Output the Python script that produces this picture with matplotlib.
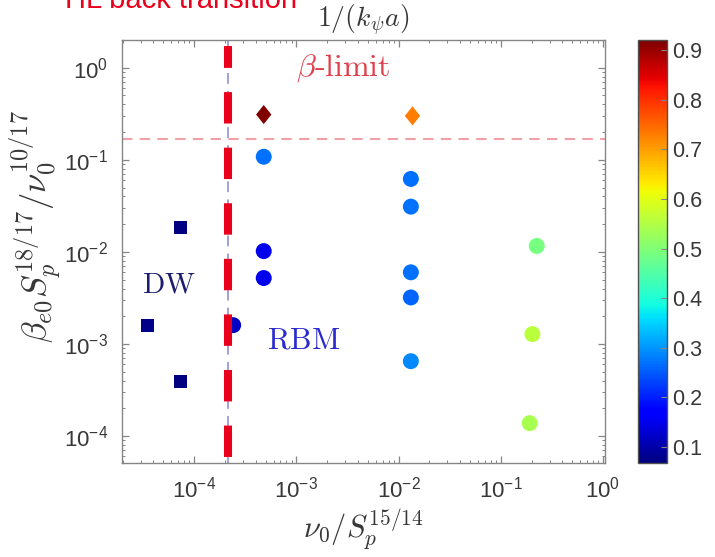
import matplotlib
matplotlib.use("Agg")
import matplotlib.pyplot as plt
from matplotlib.colors import Normalize
from matplotlib.ticker import LogLocator, NullFormatter

plt.rcParams["font.family"] = ["Liberation Sans", "DejaVu Sans"]
plt.rcParams["mathtext.fontset"] = "cm"

# DW points (squares)
sq_x = [7.3e-5, 3.5e-5, 7.3e-5]
sq_y = [0.0182, 1.58e-3, 3.9e-4]
sq_c = [0.07, 0.075, 0.07]

# RBM points (circles)
ci_x = [2.41e-4, 4.8e-4, 4.8e-4, 4.8e-4,
        0.0132, 0.0132, 0.0132, 0.0132, 0.0132,
        0.225, 0.204, 0.192]
ci_y = [1.6e-3, 0.108, 0.0102, 5.2e-3,
        0.062, 0.031, 6.0e-3, 3.2e-3, 6.5e-4,
        0.0116, 1.28e-3, 1.38e-4]
ci_c = [0.12, 0.27, 0.15, 0.15,
        0.27, 0.27, 0.27, 0.26, 0.29,
        0.49, 0.56, 0.54]

# beyond beta-limit (diamonds)
di_x = [4.8e-4, 0.0137]
di_y = [0.31, 0.30]
di_c = [0.92, 0.73]

x_transition = 2.15e-4
beta_limit = 0.17
cbar_ticks = [0.1, 0.2, 0.3, 0.4, 0.5, 0.6, 0.7, 0.8, 0.9]

norm = Normalize(vmin=0.068, vmax=0.92)
cmap = "jet"
spine_col = "#858585"
text_col = "#383838"

fig = plt.figure(figsize=(7.15, 5.57), dpi=100)
ax = fig.add_axes([0.1706, 0.1688, 0.6755, 0.7594])
cax = fig.add_axes([0.8923, 0.1688, 0.0406, 0.7594])

ax.set_xscale("log")
ax.set_yscale("log")
ax.set_xlim(1.97e-5, 1.046)
ax.set_ylim(5.1e-5, 2.0)

ax.scatter(sq_x, sq_y, c=sq_c, cmap=cmap, norm=norm, marker="s", s=88,
           edgecolors="none", zorder=3)
sc = ax.scatter(ci_x, ci_y, c=ci_c, cmap=cmap, norm=norm, marker="o", s=132,
                edgecolors="none", zorder=3)
diamond = [(0, 1), (0.8, 0), (0, -1), (-0.8, 0), (0, 1)]
ax.scatter(di_x, di_y, c=di_c, cmap=cmap, norm=norm, marker=diamond, s=190,
           edgecolors="none", zorder=3)

ax.axvline(x_transition, color="#9a9ad8", lw=1.3, dashes=(6, 4), zorder=2)
ax.axvline(x_transition, ymin=0.015, ymax=0.985, color="#e8001c", lw=5.8,
           dashes=(3.9, 3.0), zorder=4)
ax.axhline(beta_limit, color="#f0a0a8", lw=1.5, dashes=(5, 3.5), zorder=2)

ax.text(2.88e-3, 1.0, r"$\beta\text{-limit}$", color="#e0404c", fontsize=23,
        ha="center", va="center")
ax.text(5.7e-5, 4.4e-3, r"$\mathrm{DW}$", color="#1c1c70", fontsize=21,
        ha="center", va="center")
ax.text(1.17e-3, 1.08e-3, r"$\mathrm{RBM}$", color="#2a2ad0", fontsize=22,
        ha="center", va="center")

ax.set_xlabel(r"$\nu_0/S_p^{15/14}$", fontsize=22, color=text_col, labelpad=4)
ax.set_ylabel(r"$\beta_{e0}S_p^{18/17}/\nu_0^{10/17}$", fontsize=25,
              color=text_col)
ax.yaxis.set_label_coords(-0.12, 0.56)
ax.set_title(r"$1/(k_\psi a)$", fontsize=20, color=text_col, pad=9)

ax.xaxis.set_major_locator(LogLocator(base=10, numticks=10))
ax.xaxis.set_minor_locator(LogLocator(base=10, subs=range(2, 10), numticks=10))
ax.xaxis.set_minor_formatter(NullFormatter())
ax.yaxis.set_major_locator(LogLocator(base=10, numticks=10))
ax.yaxis.set_minor_locator(LogLocator(base=10, subs=range(2, 10), numticks=10))
ax.yaxis.set_minor_formatter(NullFormatter())

ax.tick_params(which="both", direction="in", top=True, right=True,
               color=spine_col, labelcolor=text_col, labelsize=16)
ax.tick_params(which="major", length=5, width=0.9, pad=10)
ax.tick_params(which="minor", length=2.5, width=0.7)
for sp in ax.spines.values():
    sp.set_color(spine_col)
    sp.set_linewidth(1.0)

cb = fig.colorbar(sc, cax=cax, ticks=cbar_ticks)
cb.ax.tick_params(direction="in", length=4, color=spine_col,
                  labelcolor=text_col, labelsize=15.5, pad=4)
cb.outline.set_edgecolor("#505050")
cb.outline.set_linewidth(1.0)

fig.text(0.091, 1 - 8 / 557, "HL back transition", color="#e8001c",
         fontsize=21, ha="left", va="baseline")

fig.savefig("out.png", dpi=100)
plt.close(fig)
